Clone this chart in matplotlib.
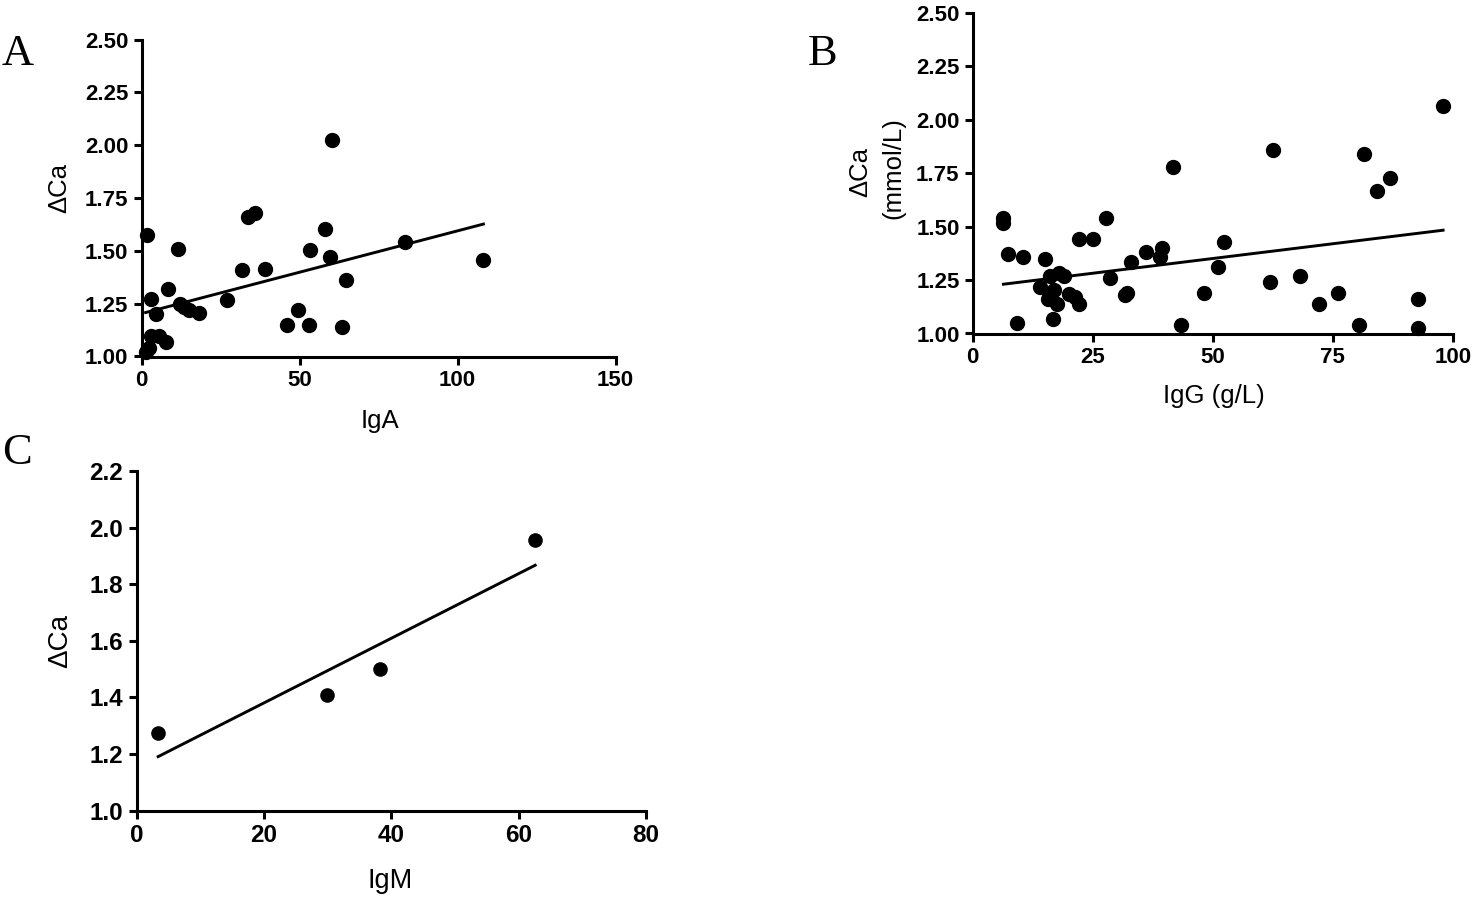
import numpy as np
import matplotlib
matplotlib.use('Agg')
import matplotlib.pyplot as plt

# ---- data ----
iga_x = [1.3, 1.6, 2.3, 2.9, 3.0, 4.5, 5.5, 7.6, 8.5, 11.5, 12.2, 13.5, 15.0, 18.3,
         27.1, 31.7, 33.8, 35.9, 39.1, 45.9, 49.6, 53.1, 53.3, 58.1, 59.7, 60.4,
         63.4, 64.6, 83.4, 108.2]
iga_y = [1.02, 1.574, 1.04, 1.271, 1.095, 1.203, 1.095, 1.07, 1.318, 1.511, 1.25, 1.235,
         1.22, 1.205, 1.266, 1.408, 1.658, 1.677, 1.413, 1.147, 1.222, 1.147, 1.503,
         1.601, 1.471, 2.025, 1.139, 1.364, 1.543, 1.456]
iga_fit = (0.003916, 1.2029)   # slope, intercept

igg_x = [6.4, 6.4, 7.4, 9.3, 10.4, 14.0, 15.1, 15.6, 16.1, 16.8, 17.0, 17.5, 18.0, 19.1,
         20.0, 21.4, 22.2, 22.2, 25.0, 27.7, 28.6, 31.7, 32.2, 33.0, 36.0, 39.0, 39.4,
         41.7, 43.3, 48.2, 51.2, 52.4, 61.9, 62.5, 68.2, 72.1, 76.2, 80.5, 81.5, 84.3,
         87.0, 92.8, 92.8, 98.0]
igg_y = [1.539, 1.516, 1.372, 1.05, 1.359, 1.218, 1.348, 1.16, 1.268, 1.07, 1.203, 1.137,
         1.284, 1.268, 1.187, 1.172, 1.137, 1.44, 1.44, 1.542, 1.258, 1.18, 1.19, 1.332,
         1.379, 1.358, 1.402, 1.778, 1.04, 1.19, 1.312, 1.428, 1.242, 1.86, 1.268, 1.138,
         1.188, 1.04, 1.838, 1.666, 1.729, 1.16, 1.024, 2.066]
igg_fit = (0.002757, 1.2128)

igm_x = [3.4, 29.9, 38.2, 62.6]
igm_y = [1.273, 1.408, 1.499, 1.957]
igm_fit = (0.01142, 1.1522)

W, H = 1476, 899
SANS = ['Liberation Sans', 'DejaVu Sans']
SERIF = ['Liberation Serif', 'DejaVu Serif']

fig = plt.figure(figsize=(W / 100, H / 100), dpi=100)
fig.patch.set_facecolor('white')


def px_axes(left, top, right, bottom):
    return fig.add_axes([left / W, 1 - bottom / H, (right - left) / W, (bottom - top) / H])


def px_text(x, y, s, **kw):
    fig.text(x / W, 1 - y / H, s, ha='center', va='center', **kw)


def scatter_panel(ax, xs, ys, fit, xlim, xticks, ylim, yticks, yfmt, tick_fs, ms):
    ax.plot(xs, ys, 'o', color='black', markersize=ms, clip_on=False, zorder=5)
    slope, inter = fit
    lx = np.array([min(xs), max(xs)])
    ax.plot(lx, slope * lx + inter, color='black', lw=2.1, zorder=4)
    ax.set_xlim(*xlim)
    ax.set_ylim(*ylim)
    ax.set_xticks(xticks)
    ax.set_yticks(yticks)
    ax.set_yticklabels([yfmt.format(v) for v in yticks])
    for side in ['top', 'right']:
        ax.spines[side].set_visible(False)
    for side in ['left', 'bottom']:
        ax.spines[side].set_linewidth(2.2)
    ax.tick_params(direction='out', length=5.5, width=2.2, pad=4)
    for lab in ax.get_xticklabels() + ax.get_yticklabels():
        lab.set_fontfamily(SANS)
        lab.set_fontweight('bold')
        lab.set_fontsize(tick_fs)


# A: IgA
axA = px_axes(141.5, 39.5, 615.5, 356.5)
scatter_panel(axA, iga_x, iga_y, iga_fit, (0, 150), [0, 50, 100, 150],
              (1.0, 2.5), np.arange(1.0, 2.51, 0.25), '{:.2f}', 16, 10)
px_text(380, 421, 'IgA', fontsize=18.5, family=SANS)
px_text(59, 188, 'ΔCa', fontsize=18.5, family=SANS, rotation=90)
px_text(18, 54, 'A', fontsize=32, family=SERIF)

# B: IgG
axB = px_axes(972.7, 12.7, 1452.7, 333.5)
scatter_panel(axB, igg_x, igg_y, igg_fit, (0, 100), [0, 25, 50, 75, 100],
              (1.0, 2.5), np.arange(1.0, 2.51, 0.25), '{:.2f}', 16, 10)
px_text(1214, 396, 'IgG (g/L)', fontsize=18.5, family=SANS)
px_text(860, 172, 'ΔCa', fontsize=18.5, family=SANS, rotation=90)
px_text(893, 168, '(mmol/L)', fontsize=18.5, family=SANS, rotation=90)
px_text(823, 54, 'B', fontsize=32, family=SERIF)

# C: IgM
axC = px_axes(136.5, 471, 646, 810.7)
scatter_panel(axC, igm_x, igm_y, igm_fit, (0, 80), [0, 20, 40, 60, 80],
              (1.0, 2.2), np.arange(1.0, 2.21, 0.2), '{:.1f}', 17.5, 9.5)
px_text(390, 881, 'IgM', fontsize=19.5, family=SANS)
px_text(60, 641, 'ΔCa', fontsize=20, family=SANS, rotation=90)
px_text(17, 453, 'C', fontsize=32, family=SERIF)

fig.savefig('out.png', dpi=100)
